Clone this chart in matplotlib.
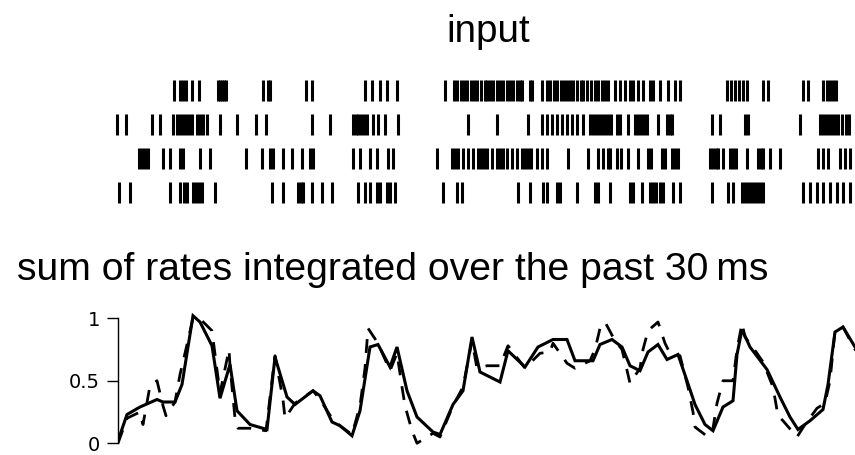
import matplotlib
matplotlib.use("Agg")
import matplotlib.pyplot as plt

plt.rcParams['font.family'] = ['Liberation Sans', 'DejaVu Sans']

# spike times (ms) of the four input trains, top row first
spikes_1 = [56, 62, 65, 68, 74, 81, 100, 102, 104, 106, 108, 145, 150, 152, 188, 194,
            247, 254, 262, 269, 279, 327, 336, 339, 343, 346, 349, 353, 356, 359, 363,
            367, 369, 372, 375, 379, 382, 385, 389, 392, 395, 399, 402, 404, 412, 414,
            424, 429, 432, 436, 439, 443, 446, 449, 452, 455, 459, 463, 465, 469, 473,
            477, 480, 484, 487, 490, 497, 502, 507, 512, 515, 520, 525, 532, 535, 542,
            550, 557, 562, 609, 613, 617, 621, 625, 629, 645, 650, 685, 690, 705, 709,
            712, 715, 718]
spikes_2 = [-1, 8, 34, 42, 55, 59, 62, 65, 68, 71, 74, 79, 82, 85, 89, 102, 119, 138,
            148, 194, 212, 235, 238, 240, 243, 246, 249, 255, 260, 267, 280, 350, 379,
            410, 424, 429, 434, 439, 444, 449, 454, 459, 465, 472, 475, 478, 481, 484,
            487, 490, 493, 499, 502, 510, 517, 520, 523, 526, 529, 540, 549, 552, 554,
            594, 602, 627, 630, 682, 702, 705, 708, 711, 714, 717, 720, 724, 728, 731]
spikes_3 = [21, 24, 27, 30, 45, 52, 62, 65, 82, 92, 128, 144, 152, 155, 165, 174, 184,
            192, 195, 235, 242, 252, 259, 270, 275, 319, 334, 337, 340, 345, 350, 355,
            360, 363, 366, 369, 374, 379, 382, 385, 389, 394, 399, 404, 407, 410, 413,
            419, 424, 429, 450, 470, 480, 485, 490, 492, 499, 503, 510, 520, 530, 533,
            544, 547, 554, 557, 560, 592, 595, 598, 600, 605, 612, 615, 618, 629, 640,
            643, 645, 652, 662, 700, 705, 710, 722, 727, 732]
spikes_4 = [1, 12, 52, 62, 66, 69, 75, 78, 81, 84, 97, 154, 165, 180, 183, 185, 194,
            204, 214, 240, 247, 252, 259, 262, 269, 272, 277, 325, 339, 344, 400, 412,
            425, 429, 439, 442, 459, 477, 480, 492, 512, 515, 524, 532, 535, 538, 542,
            545, 555, 562, 594, 610, 615, 624, 627, 630, 633, 636, 639, 642, 645, 685,
            692, 699, 705, 712, 719, 725, 732]

# integrated rate (normalised), solid and dashed traces
t_solid = [0, 9, 22, 39, 45, 57, 64, 75, 82, 94, 102, 112, 119, 132, 149, 157, 169, 177,
           195, 202, 214, 222, 234, 242, 252, 260, 272, 279, 289, 299, 315, 322, 335,
           345, 354, 362, 382, 390, 407, 420, 435, 449, 457, 475, 482, 494, 504, 512,
           522, 530, 540, 549, 560, 569, 577, 587, 595, 605, 615, 619, 624, 632, 649,
           662, 672, 680, 692, 705, 710, 717, 725, 737, 745]
r_solid = [0.02, 0.23, 0.29, 0.35, 0.33, 0.33, 0.47, 1.02, 0.97, 0.78, 0.36, 0.63, 0.26,
           0.15, 0.11, 0.69, 0.37, 0.31, 0.42, 0.38, 0.17, 0.14, 0.06, 0.26, 0.77, 0.79,
           0.61, 0.77, 0.42, 0.21, 0.09, 0.07, 0.31, 0.42, 0.85, 0.57, 0.49, 0.74, 0.61,
           0.77, 0.83, 0.83, 0.66, 0.66, 0.79, 0.83, 0.77, 0.62, 0.58, 0.73, 0.79, 0.67,
           0.71, 0.50, 0.31, 0.15, 0.10, 0.29, 0.34, 0.71, 0.91, 0.77, 0.59, 0.37, 0.21,
           0.11, 0.18, 0.27, 0.47, 0.89, 0.93, 0.77, 0.70]
t_dash = [0, 9, 22, 25, 32, 39, 45, 48, 57, 62, 65, 75, 84, 94, 102, 111, 112, 117, 120,
          132, 148, 157, 165, 167, 177, 195, 202, 214, 222, 234, 242, 247, 250, 260, 272,
          279, 284, 287, 294, 299, 315, 322, 335, 345, 354, 359, 369, 382, 390, 407, 422,
          432, 435, 449, 457, 472, 477, 482, 487, 497, 504, 510, 512, 522, 525, 530, 540,
          547, 552, 562, 570, 575, 577, 590, 595, 599, 605, 615, 619, 624, 627, 639, 645,
          655, 660, 665, 679, 687, 699, 707, 712, 717, 725, 737, 745]
r_dash = [0.0, 0.2, 0.25, 0.15, 0.46, 0.5, 0.3, 0.22, 0.33, 0.55, 0.65, 1.0, 0.98, 0.9,
          0.4, 0.75, 0.62, 0.2, 0.12, 0.12, 0.1, 0.7, 0.35, 0.2, 0.32, 0.42, 0.35, 0.2,
          0.14, 0.07, 0.3, 0.6, 0.92, 0.8, 0.58, 0.72, 0.45, 0.3, 0.1, 0.0, 0.08, 0.05,
          0.3, 0.45, 0.82, 0.6, 0.62, 0.62, 0.78, 0.6, 0.72, 0.73, 0.8, 0.64, 0.6, 0.66,
          0.75, 0.92, 0.97, 0.82, 0.75, 0.55, 0.48, 0.6, 0.75, 0.9, 0.97, 0.8, 0.72, 0.7,
          0.45, 0.25, 0.13, 0.05, 0.12, 0.32, 0.5, 0.5, 0.75, 0.96, 0.85, 0.72, 0.65, 0.45,
          0.22, 0.18, 0.05, 0.15, 0.28, 0.32, 0.5, 0.9, 0.93, 0.75, 0.7]

W, H = 855, 455
fig = plt.figure(figsize=(W / 100, H / 100), dpi=100)

""" ---------- raster ---------- """
ax1 = fig.add_axes([115 / W, 245 / H, 740 / W, 137 / H])
ax1.eventplot([spikes_4, spikes_3, spikes_2, spikes_1], lineoffsets=[0, 1, 2, 3],
              linelengths=0.62, linewidths=2.2, colors='black')
ax1.set_xlim(-3, 737)
ax1.set_ylim(-0.5, 3.5)
ax1.axis('off')
fig.text(488 / W, 1 - 32 / H, "input", ha='center', va='center', fontsize=27.8)

""" ---------- integrated rates ---------- """
fig.text(17 / W, 1 - 270 / H, "sum of rates integrated over the past 30\u2009ms",
         ha='left', va='center', fontsize=28.2)

ax2 = fig.add_axes([118 / W, 5.5 / H, 737 / W, 137.5 / H])
ax2.plot(t_solid, r_solid, color='black', lw=2.2, solid_joinstyle='miter')
ax2.plot(t_dash, r_dash, color='black', lw=2.0, linestyle=(0, (5, 4)))
ax2.set_xlim(0, 737)
ax2.set_ylim(-0.05, 1.05)
for s in ['top', 'right', 'bottom']:
    ax2.spines[s].set_visible(False)
ax2.spines['left'].set_bounds(0, 1)
ax2.spines['left'].set_linewidth(1.0)
ax2.set_xticks([])
ax2.set_yticks([0, 0.5, 1])
ax2.set_yticklabels(['0', '0.5', '1'])
ax2.tick_params(axis='y', length=8, width=1.0, pad=5)
for lab in ax2.get_yticklabels():
    lab.set_fontfamily('DejaVu Sans')
    lab.set_fontsize(14)

plt.savefig("out.png", dpi=100)
